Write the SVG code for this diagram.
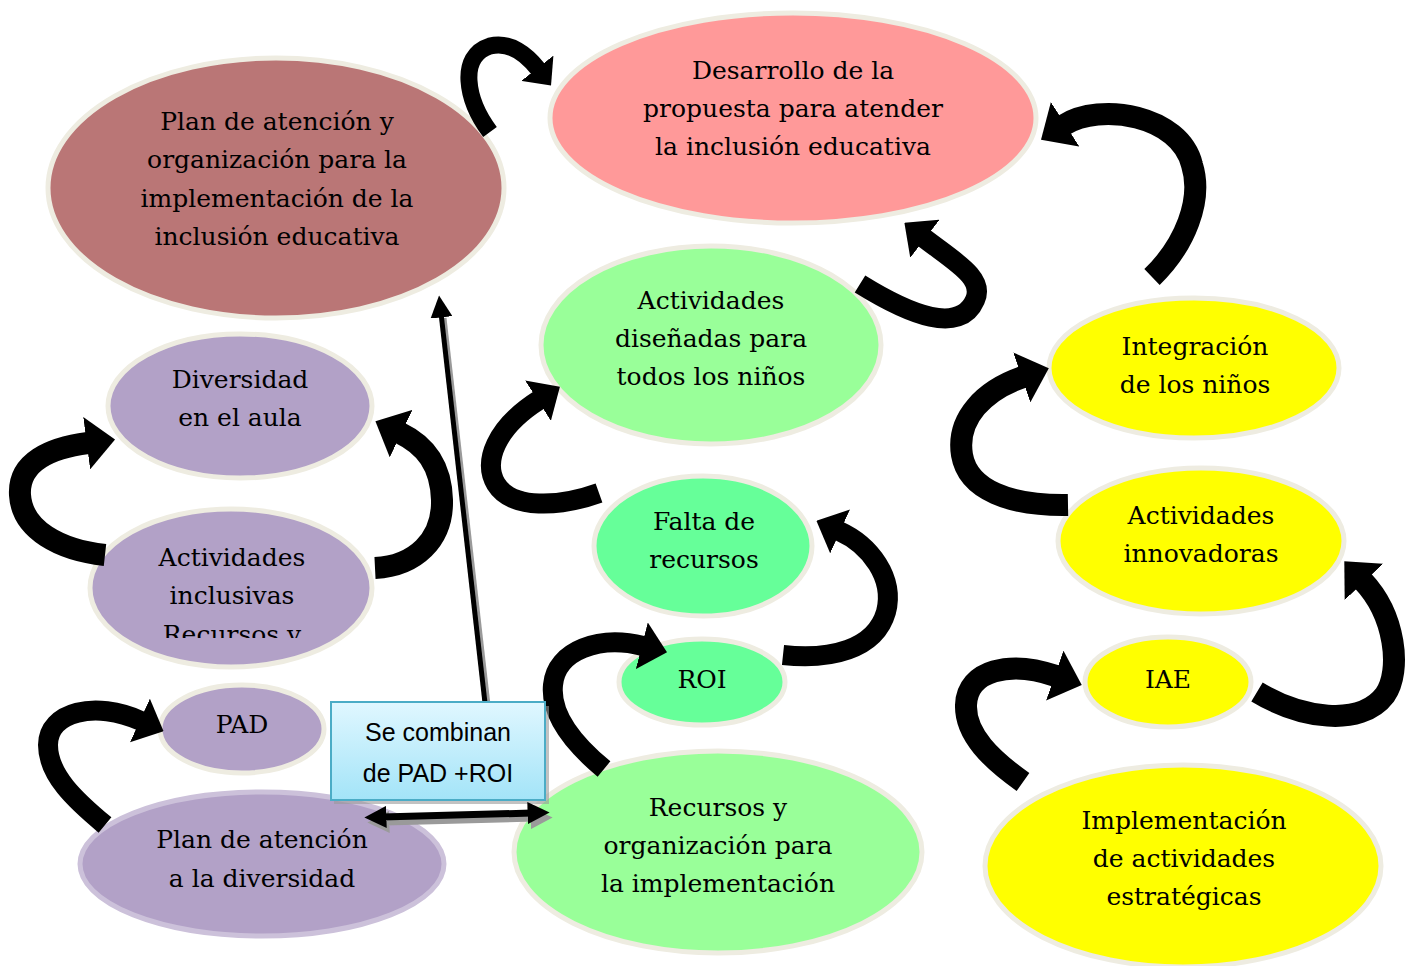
<svg xmlns="http://www.w3.org/2000/svg" width="1406" height="966" viewBox="0 0 1406 966">
<style>
.n{stroke:#EEECE1;stroke-width:5}
.t{font-family:"DejaVu Serif","Liberation Serif",serif;font-size:25px;fill:#000;text-anchor:middle}
.c{fill:none;stroke:#000;stroke-linecap:butt;marker-end:url(#hd)}
.box{font-family:"Liberation Sans",Arial,sans-serif;font-size:25px;fill:#000;text-anchor:middle}
</style>
<defs>
<marker id="hd" viewBox="0 0 13 24" markerWidth="1.3" markerHeight="2.4" refX="0.6" refY="12" orient="auto" markerUnits="strokeWidth">
<path d="M0,0 L13,12 L0,24 Z" fill="#000"/>
</marker>
<marker id="sh" viewBox="0 0 10 10" markerWidth="22" markerHeight="22" refX="2" refY="5" orient="auto" markerUnits="userSpaceOnUse">
<path d="M0,0 L10,5 L0,10 Z" fill="#000"/>
</marker>
<marker id="shs" viewBox="0 0 10 10" markerWidth="22" markerHeight="22" refX="2" refY="5" orient="auto-start-reverse" markerUnits="userSpaceOnUse">
<path d="M0,0 L10,5 L0,10 Z" fill="#000"/>
</marker>
<marker id="shg" viewBox="0 0 10 10" markerWidth="22" markerHeight="22" refX="2" refY="5" orient="auto-start-reverse" markerUnits="userSpaceOnUse">
<path d="M0,0 L10,5 L0,10 Z" fill="#9a9a9a"/>
</marker>
<linearGradient id="bg" x1="0" y1="0" x2="0" y2="1">
<stop offset="0" stop-color="#E0F7FF"/>
<stop offset="1" stop-color="#A3E4F8"/>
</linearGradient>
<clipPath id="clipAI"><rect x="60" y="500" width="340" height="138"/></clipPath>
</defs>

<g id="plan-inclusion">
<ellipse class="n" cx="276" cy="188" rx="228" ry="130" fill="#BA7676"/>
<text class="t" x="277" y="130">Plan de atención y</text>
<text class="t" x="277" y="168">organización para la</text>
<text class="t" x="277" y="207">implementación de la</text>
<text class="t" x="277" y="245">inclusión educativa</text>
</g>

<g id="desarrollo">
<ellipse class="n" cx="793" cy="118" rx="243" ry="105" fill="#FF9999"/>
<text class="t" x="793" y="79">Desarrollo de la</text>
<text class="t" x="793" y="117">propuesta para atender</text>
<text class="t" x="793" y="155">la inclusión educativa</text>
</g>

<g id="actividades-disenadas">
<ellipse class="n" cx="711" cy="345" rx="170" ry="99" fill="#99FF99"/>
<text class="t" x="711" y="309">Actividades</text>
<text class="t" x="711" y="347">diseñadas para</text>
<text class="t" x="711" y="385">todos los niños</text>
</g>

<g id="falta-recursos">
<ellipse class="n" cx="703" cy="546" rx="109" ry="70" fill="#66FF99"/>
<text class="t" x="704" y="530">Falta de</text>
<text class="t" x="704" y="568">recursos</text>
</g>

<g id="roi">
<ellipse class="n" cx="702" cy="682" rx="83" ry="43" fill="#66FF99"/>
<text class="t" x="702" y="688">ROI</text>
</g>

<g id="recursos-organizacion">
<ellipse class="n" cx="718" cy="852" rx="204" ry="101" fill="#99FF99"/>
<text class="t" x="718" y="816">Recursos y</text>
<text class="t" x="718" y="854">organización para</text>
<text class="t" x="718" y="892">la implementación</text>
</g>

<g id="diversidad-aula">
<ellipse class="n" cx="240" cy="406" rx="132" ry="72" fill="#B2A1C7"/>
<text class="t" x="240" y="388">Diversidad</text>
<text class="t" x="240" y="426">en el aula</text>
</g>

<g id="actividades-inclusivas">
<ellipse class="n" cx="231" cy="588" rx="141" ry="79" fill="#B2A1C7"/>
<text class="t" x="232" y="566">Actividades</text>
<text class="t" x="232" y="604">inclusivas</text>
<text class="t" x="232" y="643" clip-path="url(#clipAI)">Recursos y</text>
</g>

<g id="pad">
<ellipse class="n" cx="242" cy="729" rx="82" ry="44" fill="#B2A1C7"/>
<text class="t" x="242" y="733">PAD</text>
</g>

<g id="plan-diversidad">
<ellipse cx="262" cy="864" rx="182" ry="72" fill="#B2A1C7" stroke="#CCC1DA" stroke-width="5"/>
<text class="t" x="262" y="848">Plan de atención</text>
<text class="t" x="262" y="887">a la diversidad</text>
</g>

<g id="integracion">
<ellipse class="n" cx="1194" cy="368" rx="145" ry="70" fill="#FFFF00"/>
<text class="t" x="1195" y="355">Integración</text>
<text class="t" x="1195" y="393">de los niños</text>
</g>

<g id="actividades-innovadoras">
<ellipse class="n" cx="1201" cy="541" rx="143" ry="73" fill="#FFFF00"/>
<text class="t" x="1201" y="524">Actividades</text>
<text class="t" x="1201" y="562">innovadoras</text>
</g>

<g id="iae">
<ellipse class="n" cx="1168" cy="682" rx="83" ry="45" fill="#FFFF00"/>
<text class="t" x="1168" y="688">IAE</text>
</g>

<g id="implementacion">
<ellipse class="n" cx="1183" cy="866" rx="198" ry="101" fill="#FFFF00"/>
<text class="t" x="1184" y="829">Implementación</text>
<text class="t" x="1184" y="867">de actividades</text>
<text class="t" x="1184" y="905">estratégicas</text>
</g>

<g id="connectors">
<path class="c" stroke-width="17" d="M490 132 C466 100 458 56 490 46 C510 41 527 55 538 69"/>
<path class="c" stroke-width="20" d="M860 284 C910 315 960 335 975 300 C985 278 955 262 924 238"/>
<path class="c" stroke-width="22" d="M1152 277 C1185 245 1203 200 1192 165 C1180 115 1100 102 1064 125"/>
<path class="c" stroke-width="20" d="M599 493 C560 507 512 510 496 484 C483 462 495 428 539 400"/>
<path class="c" stroke-width="20" d="M783 655 C830 660 875 650 886 612 C895 578 870 545 839 531"/>
<path class="c" stroke-width="20" d="M604 769 C575 745 550 715 553 685 C556 650 600 635 643 646"/>
<path class="c" stroke-width="22" d="M105 555 C60 550 22 530 20 495 C18 462 50 448 88 443"/>
<path class="c" stroke-width="22" d="M375 568 C415 566 443 540 442 500 C441 465 425 445 400 433"/>
<path class="c" stroke-width="20" d="M105 825 C75 800 48 775 48 745 C48 712 95 700 141 721"/>
<path class="c" stroke-width="22" d="M1068 505 C1010 506 968 490 962 455 C956 418 985 390 1023 377"/>
<path class="c" stroke-width="22" d="M1257 692 C1300 718 1360 728 1385 695 C1402 670 1395 615 1363 581"/>
<path class="c" stroke-width="22" d="M1023 782 C992 760 965 735 966 705 C967 670 1010 660 1056 676"/>
<line x1="488" y1="705" x2="444" y2="318" stroke="#9a9a9a" stroke-width="5"/>
<line x1="485" y1="703" x2="441" y2="313" stroke="#000" stroke-width="5" marker-end="url(#sh)"/>
</g>

<g id="se-combinan">
<rect x="334" y="706" width="215" height="98" fill="#9a9a9a" opacity="0.6"/>
<rect x="331" y="702" width="214" height="98" fill="url(#bg)" stroke="#4BACC6" stroke-width="2"/>
<text class="box" x="438" y="741">Se combinan</text>
<text class="box" x="438" y="782">de PAD +ROI</text>
</g>

<g id="double-connector">
<line x1="385" y1="822" x2="535" y2="818" stroke="#9a9a9a" stroke-width="7" marker-start="url(#shg)" marker-end="url(#shg)"/>
<line x1="382" y1="817" x2="532" y2="813" stroke="#000" stroke-width="7" marker-start="url(#shs)" marker-end="url(#shs)"/>
</g>
</svg>
